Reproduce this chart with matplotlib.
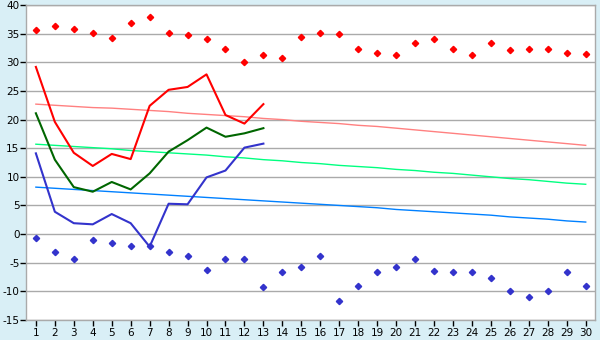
import numpy as np
import matplotlib
matplotlib.use("Agg")
import matplotlib.pyplot as plt

plt.rcParams["axes.unicode_minus"] = False

days = list(range(1, 31))

# record highs / lows per day (markers)
rec_max = [35.6, 36.3, 35.8, 35.1, 34.2, 36.8, 37.9, 35.1, 34.7, 34.0,
           32.3, 30.0, 31.2, 30.7, 34.4, 35.2, 34.9, 32.3, 31.7, 31.2,
           33.3, 34.0, 32.3, 31.2, 33.3, 32.1, 32.3, 32.3, 31.7, 31.4]
rec_min = [-0.6, -3.2, -4.4, -1.1, -1.6, -2.1, -2.1, -3.2, -3.9, -6.2,
           -4.4, -4.4, -9.3, -6.7, -5.8, -3.9, -11.7, -9.0, -6.7, -5.8,
           -4.4, -6.5, -6.7, -6.7, -7.7, -10.0, -11.0, -10.0, -6.7, -9.0]

# current month (days 1-13)
cur_days = days[:13]
cur_max = [29.2, 19.6, 14.2, 11.9, 14.0, 13.1, 22.4, 25.2, 25.7, 27.9, 20.8, 19.3, 22.7]
cur_mean = [21.1, 13.0, 8.2, 7.4, 9.1, 7.8, 10.6, 14.4, 16.4, 18.6, 17.0, 17.6, 18.5]
cur_min = [14.1, 3.9, 1.9, 1.7, 3.5, 1.9, -2.2, 5.3, 5.2, 9.9, 11.1, 15.1, 15.8]

# normals
norm_max = [22.7, 22.5, 22.3, 22.1, 22.0, 21.8, 21.6, 21.4, 21.1, 20.9,
            20.7, 20.5, 20.2, 20.0, 19.7, 19.5, 19.3, 19.0, 18.8, 18.5,
            18.2, 17.9, 17.6, 17.3, 17.0, 16.7, 16.4, 16.1, 15.8, 15.5]
norm_mean = [15.7, 15.5, 15.3, 15.1, 14.9, 14.6, 14.4, 14.2, 14.0, 13.8,
             13.5, 13.3, 13.0, 12.8, 12.5, 12.3, 12.0, 11.8, 11.6, 11.3,
             11.1, 10.8, 10.6, 10.3, 10.0, 9.7, 9.5, 9.2, 8.9, 8.7]
norm_min = [8.2, 8.0, 7.8, 7.6, 7.4, 7.2, 7.0, 6.8, 6.6, 6.4,
            6.2, 6.0, 5.8, 5.6, 5.4, 5.2, 5.0, 4.8, 4.6, 4.3,
            4.1, 3.9, 3.7, 3.5, 3.3, 3.0, 2.8, 2.6, 2.3, 2.1]

bg = "#d9eff6"
fig = plt.figure(figsize=(6, 3.4), dpi=100, facecolor=bg)
ax = fig.add_axes([0.044, 0.059, 0.948, 0.926])
ax.set_facecolor("white")

ax.plot(days, norm_max, color="#ff8080", lw=1.0, zorder=2)
ax.plot(days, norm_mean, color="#00ff80", lw=1.0, zorder=2)
ax.plot(days, norm_min, color="#0080ff", lw=1.0, zorder=2)

ax.plot(cur_days, cur_max, color="#ff0000", lw=1.5, zorder=3)
ax.plot(cur_days, cur_mean, color="#006600", lw=1.5, zorder=3)
ax.plot(cur_days, cur_min, color="#3333cc", lw=1.5, zorder=3)

ax.plot(days, rec_max, linestyle="none", marker="D", ms=3.2, color="#ff0000", zorder=4)
ax.plot(days, rec_min, linestyle="none", marker="D", ms=3.2, color="#3333cc", zorder=4)

ax.set_xlim(0.5, 30.5)
ax.set_ylim(-15, 40)
ax.set_xticks(days)
ax.set_yticks(range(-15, 41, 5))
ax.grid(axis="y", color="#aaaaaa", lw=1.0)
ax.set_axisbelow(True)
for s in ax.spines.values():
    s.set_color("#aaaaaa")
    s.set_linewidth(1.0)
ax.tick_params(axis="both", labelsize=7.5, colors="black", length=4, width=1)
ax.tick_params(axis="y", pad=1)
ax.tick_params(axis="x", pad=2)

fig.savefig("out.png", dpi=100, facecolor=bg)
